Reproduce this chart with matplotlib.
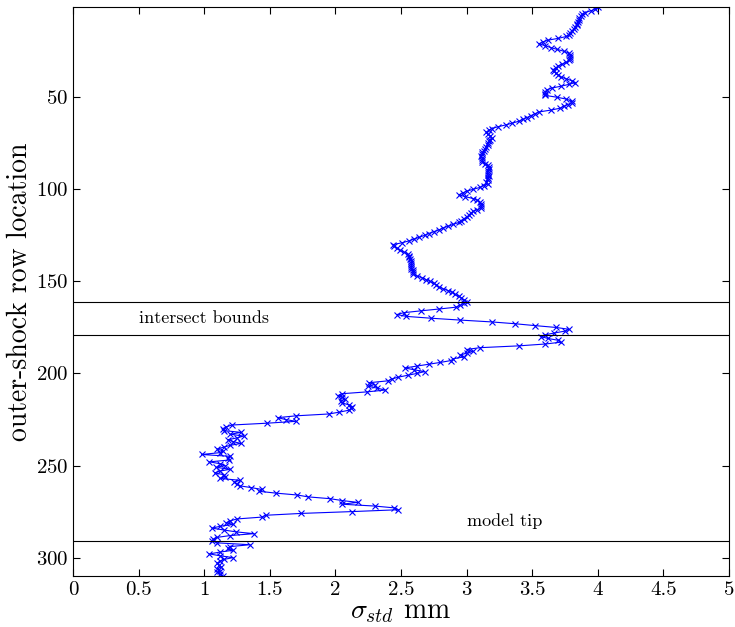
import numpy as np
import matplotlib.pyplot as plt

plt.rcParams['font.family'] = 'serif'
plt.rcParams['font.serif'] = ['cmr10']
plt.rcParams['mathtext.fontset'] = 'cm'
plt.rcParams['axes.formatter.use_mathtext'] = True

# sigma_std per outer-shock row (rows 1..310)
sigma = [
    4.00, 3.98, 3.95, 3.90, 3.88, 3.87, 3.86, 3.86, 3.85, 3.84,
    3.84, 3.83, 3.82, 3.80, 3.79, 3.78, 3.76, 3.70, 3.62, 3.58,
    3.55, 3.60, 3.64, 3.69, 3.74, 3.78, 3.79, 3.79, 3.79, 3.78,
    3.76, 3.73, 3.70, 3.68, 3.66, 3.67, 3.68, 3.70, 3.72, 3.76,
    3.80, 3.83, 3.78, 3.72, 3.65, 3.61, 3.60, 3.60, 3.60, 3.69,
    3.76, 3.80, 3.80, 3.77, 3.74, 3.71, 3.64, 3.55, 3.52, 3.49,
    3.46, 3.43, 3.40, 3.35, 3.30, 3.24, 3.19, 3.17, 3.15, 3.16,
    3.18, 3.19, 3.18, 3.17, 3.16, 3.16, 3.15, 3.14, 3.13, 3.12,
    3.12, 3.11, 3.12, 3.12, 3.12, 3.14, 3.16, 3.17, 3.17, 3.16,
    3.16, 3.16, 3.17, 3.16, 3.16, 3.15, 3.16, 3.13, 3.10, 3.05,
    3.00, 2.97, 2.94, 2.99, 3.05, 3.08, 3.10, 3.11, 3.11, 3.11,
    3.08, 3.05, 3.03, 3.02, 3.00, 2.98, 2.96, 2.94, 2.90, 2.86,
    2.82, 2.79, 2.75, 2.71, 2.68, 2.64, 2.60, 2.56, 2.51, 2.44,
    2.45, 2.47, 2.49, 2.52, 2.55, 2.56, 2.56, 2.57, 2.58, 2.58,
    2.58, 2.58, 2.58, 2.59, 2.59, 2.59, 2.62, 2.66, 2.69, 2.72,
    2.75, 2.77, 2.79, 2.82, 2.86, 2.89, 2.91, 2.94, 2.96, 2.98,
    3.00, 2.98, 2.95, 2.92, 2.79, 2.65, 2.52, 2.47, 2.54, 2.73,
    2.95, 3.19, 3.37, 3.52, 3.68, 3.78, 3.75, 3.67, 3.60, 3.57,
    3.62, 3.70, 3.72, 3.60, 3.40, 3.10, 3.00, 3.05, 3.00, 2.95,
    2.98, 2.90, 2.88, 2.80, 2.71, 2.62, 2.53, 2.60, 2.68, 2.62,
    2.55, 2.48, 2.43, 2.40, 2.26, 2.30, 2.25, 2.32, 2.38, 2.24,
    2.05, 2.02, 2.05, 2.07, 2.04, 2.05, 2.10, 2.13, 2.12, 2.10,
    2.03, 1.95, 1.70, 1.56, 1.62, 1.70, 1.48, 1.21, 1.17, 1.14,
    1.15, 1.28, 1.20, 1.30, 1.25, 1.18, 1.22, 1.28, 1.20, 1.15,
    1.10, 1.14, 1.12, 0.98, 1.20, 1.18, 1.19, 1.04, 1.12, 1.16,
    1.09, 1.20, 1.12, 1.08, 1.15, 1.16, 1.12, 1.27, 1.23, 1.25,
    1.27, 1.36, 1.44, 1.42, 1.55, 1.71, 1.79, 1.96, 2.05, 2.17,
    2.05, 2.30, 2.45, 2.48, 2.13, 1.74, 1.47, 1.44, 1.25, 1.20,
    1.17, 1.22, 1.12, 1.06, 1.15, 1.24, 1.38, 1.20, 1.10, 1.07,
    1.06, 1.10, 1.35, 1.20, 1.18, 1.22, 1.12, 1.04, 1.12, 1.22,
    1.15, 1.12, 1.10, 1.11, 1.13, 1.10, 1.12, 1.10, 1.12, 1.14,
]
rows = np.arange(1, len(sigma) + 1)

# horizontal markers (rows)
bounds = [161, 179]
tip = 291
labels = ['intersect bounds', 'model tip']
label_pos = [(0.5, 170), (3.0, 280)]

fig = plt.figure(figsize=(7.35, 6.27), dpi=100)
ax = fig.add_axes([0.0993, 0.0813, 0.8925, 0.9075])

ax.plot(sigma, rows, color='blue', lw=0.8, marker='x', ms=5, mew=0.8)
for b in bounds + [tip]:
    ax.axhline(b, color='black', lw=0.8)
for txt, (x, y) in zip(labels, label_pos):
    ax.text(x, y, txt, fontsize=13, va='center', ha='left')

ax.set_xlim(0, 5)
ax.set_ylim(310, 1)
ax.set_xticks(np.arange(0, 5.01, 0.5))
ax.set_xticklabels(['0', '0.5', '1', '1.5', '2', '2.5', '3', '3.5', '4', '4.5', '5'])
ax.set_yticks([50, 100, 150, 200, 250, 300])
ax.tick_params(direction='in', top=True, right=True, labelsize=15, length=5)
ax.set_xlabel(r'$\sigma_{std}$ mm', fontsize=20, labelpad=0)
ax.set_ylabel('outer-shock row location', fontsize=20, labelpad=2)

fig.savefig('out.png', dpi=100)
